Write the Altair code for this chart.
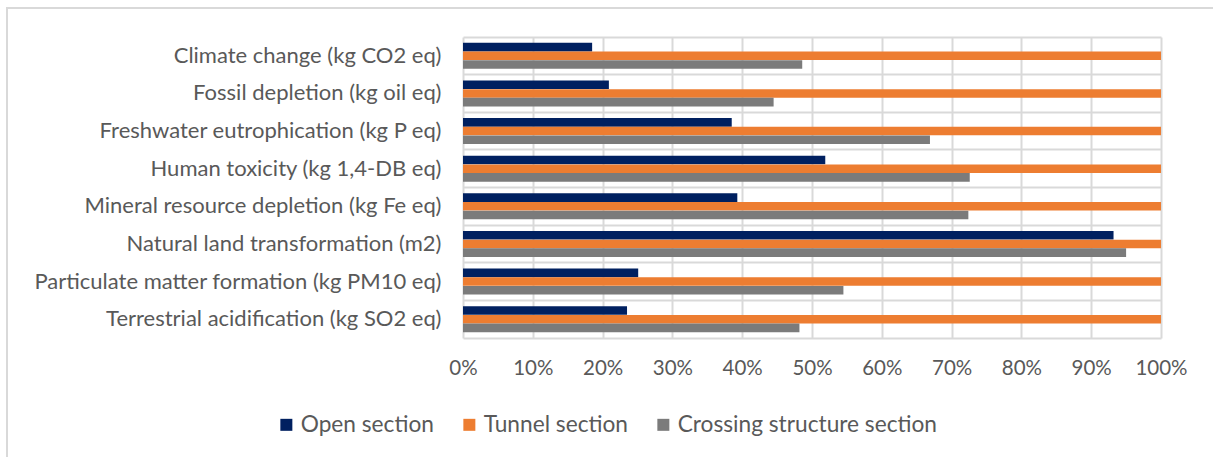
import altair as alt
import pandas as pd

categories = [
    "Climate change (kg CO2 eq)",
    "Fossil depletion (kg oil eq)",
    "Freshwater eutrophication (kg P eq)",
    "Human toxicity (kg 1,4-DB eq)",
    "Mineral resource depletion (kg Fe eq)",
    "Natural land transformation (m2)",
    "Particulate matter formation (kg PM10 eq)",
    "Terrestrial acidification (kg SO2 eq)",
]
series = ["Open section", "Tunnel section", "Crossing structure section"]
open_section = [18.5, 20.9, 38.5, 51.9, 39.3, 93.2, 25.1, 23.5]
tunnel_section = [100, 100, 100, 100, 100, 100, 100, 100]
crossing_section = [48.6, 44.5, 66.9, 72.6, 72.4, 95.0, 54.5, 48.2]
x_ticks = [0, 10, 20, 30, 40, 50, 60, 70, 80, 90, 100]
colors = ["#002060", "#ED7D31", "#7B7B7B"]

rows = []
for name, vals in zip(series, [open_section, tunnel_section, crossing_section]):
    for cat, v in zip(categories, vals):
        rows.append({"category": cat, "series": name, "value": v})
df = pd.DataFrame(rows)

FONT = "Lato"
TEXT = "#595959"
GRID = "#D9D9D9"

x_scale = alt.Scale(domain=[0, 100], nice=False)

bars = alt.Chart(df).mark_bar(size=8.6).encode(
    y=alt.Y(
        "category:N",
        sort=categories,
        title=None,
        scale=alt.Scale(domain=categories, paddingInner=0, paddingOuter=0),
        axis=alt.Axis(
            grid=True, gridColor=GRID, gridWidth=2, bandPosition=0,
            ticks=False, domain=False, labelPadding=22,
            labelFontSize=22, labelColor=TEXT, labelFont=FONT, labelLimit=0,
        ),
    ),
    yOffset=alt.YOffset(
        "series:N", sort=series,
        scale=alt.Scale(paddingInner=0.04, paddingOuter=0.68),
    ),
    x=alt.X(
        "value:Q",
        title=None,
        scale=x_scale,
        axis=alt.Axis(
            values=x_ticks, labelExpr="datum.value + '%'",
            grid=True, gridColor=GRID, gridWidth=2, ticks=False,
            domain=True, domainColor=GRID, domainWidth=2, labelFlush=False,
            labelPadding=20, labelFontSize=20.5, labelColor=TEXT, labelFont=FONT,
        ),
    ),
    color=alt.Color(
        "series:N", sort=series,
        scale=alt.Scale(domain=series, range=colors),
        legend=alt.Legend(
            title=None, orient="none", direction="horizontal",
            legendX=-188, legendY=376, labelLimit=400,
            symbolType="square", symbolSize=144, symbolStrokeWidth=0,
            labelFontSize=22.7, labelColor=TEXT, labelFont=FONT,
            labelOffset=3, columnPadding=24,
        ),
    ),
)

# light outer frame around the whole figure
frame = alt.Chart(alt.Data(values=[{}])).mark_rect(
    filled=False, stroke=GRID, strokeWidth=2
).encode(
    x=alt.value(-456), x2=alt.value(760),
    y=alt.value(-29), y2=alt.value(440),
)

chart = alt.layer(bars, frame).properties(
    width=698, height=301,
    autosize=alt.AutoSizeParams(type="none"),
    padding={"left": 463, "top": 37, "right": 52, "bottom": 119},
).configure(background="white").configure_view(stroke=None)

chart.save("out.html", embed_options={"renderer": "svg", "actions": False})
